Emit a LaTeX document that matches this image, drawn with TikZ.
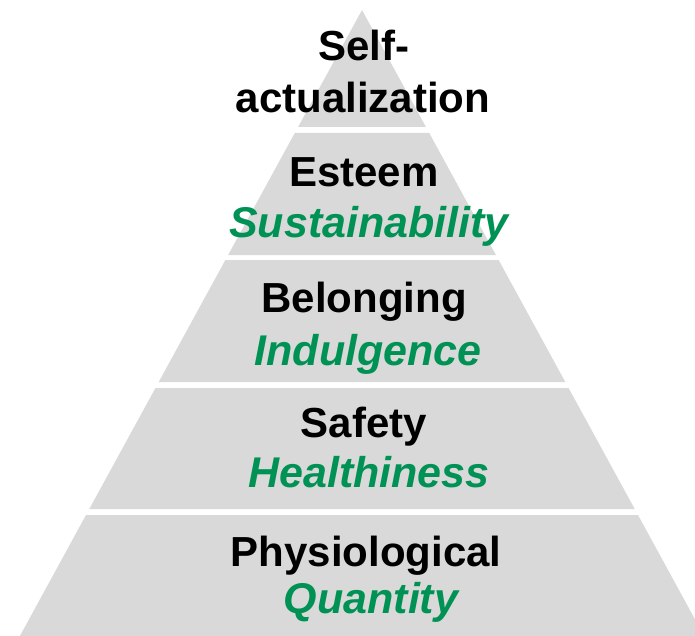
\documentclass[tikz,border=0pt]{standalone}
\usepackage{fontspec}
\setmainfont{Liberation Sans}
\definecolor{bandgray}{RGB}{217,217,217}
\definecolor{tagreen}{RGB}{0,146,84}
\begin{document}
\begin{tikzpicture}[x=1pt,y=-1pt,
  need/.style={anchor=base,inner sep=0pt,font=\fontsize{42}{46}\selectfont\bfseries,text=black},
  driver/.style={anchor=base,inner sep=0pt,font=\fontsize{43}{46}\selectfont\bfseries\itshape,text=tagreen}]
\useasboundingbox (0,0) rectangle (695,636);
\begin{scope}
\clip (0,0) rectangle (695,636);
% five stacked bands of the pyramid, slope 0.5465 per unit of height
\foreach \t/\b in {10/127,133/255,260/382,388/509,515/660}{
  \fill[bandgray] ({362-0.5465*(\t-10)},\t) -- ({362+0.5465*(\t-10)},\t)
    -- ({362+0.5465*(\b-10)},\b) -- ({362-0.5465*(\b-10)},\b) -- cycle;
}
\end{scope}
% level names and their drivers
\node[need] (self) at (364,61) {Self-};
\node[need] (actual) at (363,113) {actualization};
\node[need] (esteem) at (364,187) {Esteem};
\node[driver] (sustain) at (369,237) {Sustainability};
\node[need] (belong) at (364,312) {Belonging};
\node[driver] (indulge) at (368,365) {Indulgence};
\node[need] (safety) at (364,437) {Safety};
\node[driver] (health) at (369,487) {Healthiness};
\node[need] (physio) at (366,566) {Physiological};
\node[driver] (quant) at (371,613) {Quantity};
\end{tikzpicture}
\end{document}
